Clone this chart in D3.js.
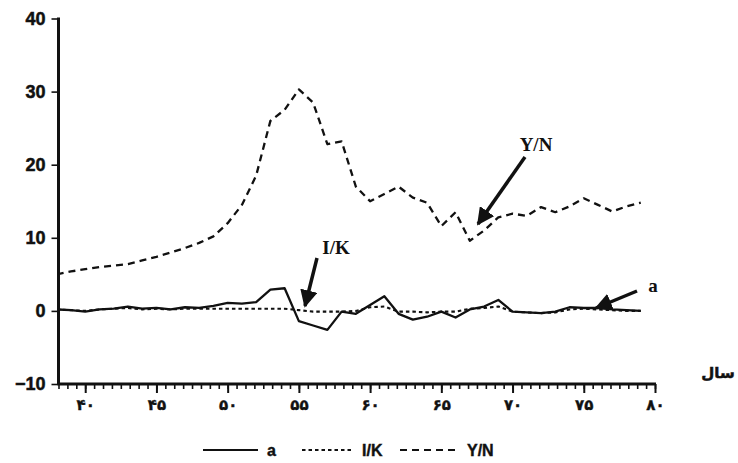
<!DOCTYPE html>
<html>
<head>
<meta charset="utf-8">
<script src="https://cdn.jsdelivr.net/npm/d3@7"></script>
<style>
  body { margin: 0; background: #fff; }
  svg { display: block; }
  .ytick text { font-family: "Liberation Sans", Arial, sans-serif; font-weight: bold; font-size: 18px; stroke: #111; stroke-width: 0.5px; }
  .xtick text { font-family: "DejaVu Sans", sans-serif; font-weight: bold; font-size: 15px; stroke: #111; stroke-width: 0.4px; }
  .note { font-family: "Liberation Serif", "Times New Roman", serif; font-weight: bold; font-size: 19px; }
  .legend text { font-family: "Liberation Sans", Arial, sans-serif; font-weight: bold; font-size: 16px; stroke: #111; stroke-width: 0.4px; }
</style>
</head>
<body>
<svg id="chart" width="738" height="463"></svg>
<script>
// years (Iranian calendar, 13xx)
const years = d3.range(38, 80);
const seriesA = [0.2, 0.1, -0.1, 0.2, 0.3, 0.6, 0.3, 0.4, 0.2, 0.5, 0.4, 0.7,
                 1.1, 1.0, 1.2, 2.9, 3.1, -1.4, -2.0, -2.6, -0.1, -0.4, 0.8, 2.0,
                 -0.4, -1.2, -0.8, -0.1, -0.9, 0.2, 0.6, 1.5, -0.1, -0.2, -0.3, -0.1,
                 0.5, 0.4, 0.4, 0.2, 0.1, 0.0];
const seriesIK = [0.2, 0.1, 0.0, 0.2, 0.3, 0.4, 0.2, 0.3, 0.2, 0.3, 0.3, 0.3,
                  0.3, 0.3, 0.3, 0.3, 0.3, 0.1, -0.1, -0.1, -0.1, 0.0, 0.5, 0.6,
                  -0.1, -0.1, -0.2, -0.1, -0.1, 0.3, 0.4, 0.6, -0.1, -0.2, -0.3, -0.2,
                  0.2, 0.3, 0.2, 0.1, 0.0, 0.0];
const seriesYN = [5.0, 5.4, 5.7, 6.0, 6.2, 6.4, 6.9, 7.4, 8.0, 8.6, 9.3, 10.2,
                  12.0, 14.5, 18.5, 26.0, 27.5, 30.3, 28.5, 22.8, 23.2, 17.0, 15.0, 16.0,
                  17.0, 15.5, 14.8, 11.6, 13.5, 9.6, 11.0, 12.8, 13.3, 13.0, 14.2, 13.5,
                  14.3, 15.4, 14.5, 13.6, 14.3, 14.8];
const yTicks = [-10, 0, 10, 20, 30, 40];
const xTicks = [40, 45, 50, 55, 60, 65, 70, 75, 80];
const xTickLabels = ["۴۰", "۴۵", "۵۰", "۵۵", "۶۰", "۶۵", "۷۰", "۷۵", "۸۰"];
const legendNames = ["a", "I/K", "Y/N"];

const svg = d3.select("#chart");
const x = d3.scaleLinear().domain([38.125, 80]).range([58.5, 655]);
const y = d3.scaleLinear().domain([-10, 40]).range([384, 18.5]);

svg.append("defs").append("clipPath").attr("id", "plot")
   .append("rect").attr("x", x(38.125)).attr("y", 0).attr("width", 700).attr("height", 400);

// x axis: minor ticks every 5/8 unit, major at labels
const minor = d3.range(0, 68).map(i => 38.125 + i * 0.625).filter(v => v <= 80.001);
const xAxisMinor = d3.axisBottom(x).tickValues(minor).tickSize(5).tickFormat("");
const xAxisMajor = d3.axisBottom(x).tickValues(xTicks).tickSize(9)
   .tickFormat((d, i) => xTickLabels[i]).tickPadding(6);

svg.append("g").attr("transform", `translate(0,${y(-10)})`).call(xAxisMinor)
   .call(g => g.select(".domain").remove())
   .call(g => g.selectAll("line").attr("stroke", "#111").attr("stroke-width", 1.6));
svg.append("g").attr("class", "xtick").attr("transform", `translate(0,${y(-10)})`).call(xAxisMajor)
   .call(g => g.select(".domain").remove())
   .call(g => g.selectAll("line").attr("stroke", "#111").attr("stroke-width", 2))
   .call(g => g.selectAll("text").attr("fill", "#111"));

const yAxis = d3.axisLeft(y).tickValues(yTicks).tickSize(7).tickPadding(6);
svg.append("g").attr("class", "ytick").attr("transform", `translate(${x(38.125)},0)`).call(yAxis)
   .call(g => g.select(".domain").remove())
   .call(g => g.selectAll("line").attr("stroke", "#111").attr("stroke-width", 1.6))
   .call(g => g.selectAll("text").attr("fill", "#111"));

// axis lines
svg.append("line").attr("x1", x(38.125)).attr("x2", x(38.125)).attr("y1", y(40) - 1).attr("y2", y(-10) + 1)
   .attr("stroke", "#111").attr("stroke-width", 3);
svg.append("line").attr("x1", x(38.125) - 1).attr("x2", x(80) + 1).attr("y1", y(-10)).attr("y2", y(-10))
   .attr("stroke", "#111").attr("stroke-width", 3);

svg.append("text").attr("x", 718).attr("y", 378).attr("text-anchor", "middle")
   .attr("font-family", "DejaVu Sans").attr("font-weight", "bold").attr("font-size", 15)
   .attr("stroke", "#111").attr("stroke-width", 0.5)
   .attr("fill", "#111").text("سال");

// lines
const line = vals => d3.line().x((d, i) => x(years[i])).y(d => y(d))(vals);
const plot = svg.append("g").attr("clip-path", "url(#plot)");
const styles = [
  { data: seriesA, dash: null, w: 2.3 },
  { data: seriesIK, dash: "3.5,3", w: 2.1 },
  { data: seriesYN, dash: "7,5", w: 2.3 }
];
styles.forEach(s => {
  plot.append("path").attr("d", line(s.data)).attr("fill", "none")
      .attr("stroke", "#111").attr("stroke-width", s.w)
      .attr("stroke-dasharray", s.dash).attr("stroke-linejoin", "round");
});

// annotations with arrows
svg.select("defs").append("marker").attr("id", "arrow")
   .attr("viewBox", "0 0 10 10").attr("refX", 9).attr("refY", 5)
   .attr("markerWidth", 5).attr("markerHeight", 5).attr("orient", "auto")
   .append("path").attr("d", "M0,0 L10,5 L0,10 z").attr("fill", "#111");

const notes = [
  { text: "Y/N", tx: 536, ty: 151, x1: 525, y1: 157, x2: 478, y2: 224 },
  { text: "I/K", tx: 336, ty: 254, x1: 317, y1: 258, x2: 305, y2: 306 },
  { text: "a", tx: 653, ty: 292, x1: 637, y1: 291, x2: 596, y2: 308 }
];
notes.forEach(n => {
  svg.append("text").attr("class", "note").attr("x", n.tx).attr("y", n.ty)
     .attr("text-anchor", "middle").attr("fill", "#111").text(n.text);
  svg.append("line").attr("x1", n.x1).attr("y1", n.y1).attr("x2", n.x2).attr("y2", n.y2)
     .attr("stroke", "#111").attr("stroke-width", 3.5).attr("marker-end", "url(#arrow)");
});

// legend
const leg = svg.append("g").attr("class", "legend");
const legX = [203, 302, 400];
const legLen = [55, 51, 58];
styles.forEach((s, i) => {
  leg.append("line").attr("x1", legX[i]).attr("x2", legX[i] + legLen[i]).attr("y1", 450).attr("y2", 450)
     .attr("stroke", "#111").attr("stroke-width", s.w - 0.3).attr("stroke-dasharray", s.dash);
  leg.append("text").attr("x", legX[i] + legLen[i] + 9).attr("y", 456).attr("fill", "#111").text(legendNames[i]);
});
</script>
</body>
</html>
